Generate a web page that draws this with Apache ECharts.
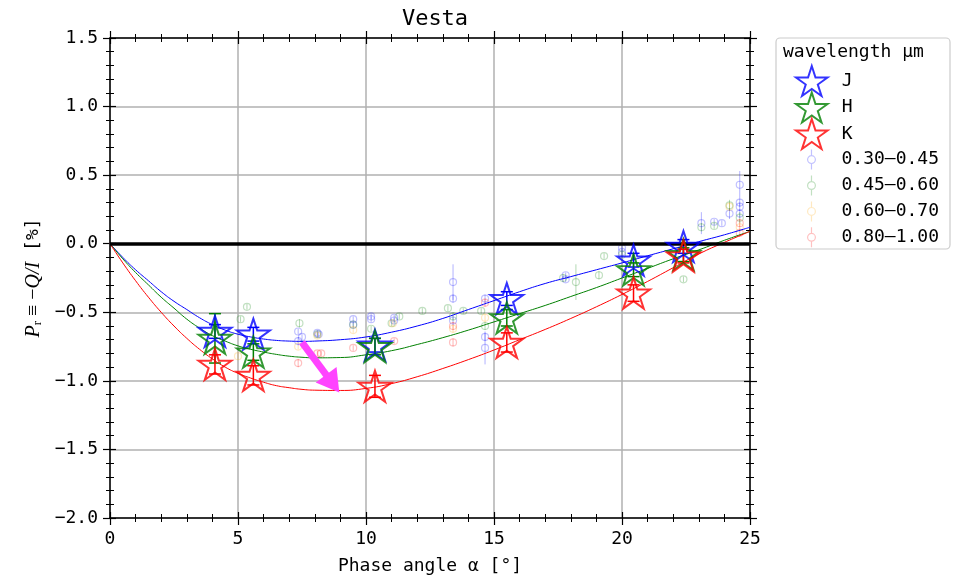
<!DOCTYPE html>
<html>
<head>
<meta charset="utf-8">
<script src="https://cdn.jsdelivr.net/npm/echarts@6/dist/echarts.min.js"></script>
<style>
html, body { margin: 0; padding: 0; background: #fff; }
#chart { width: 961px; height: 580px; }
</style>
</head>
<body>
<div id="chart"></div>
<script>
// near-IR stars (J, H, K)
var starAlpha = [4.1, 5.6, 10.35, 15.5, 20.45, 22.4];
var jP = [-0.64, -0.66, -0.74, -0.40, -0.12, -0.02];
var jErr = [0.05, 0.05, 0.05, 0.05, 0.05, 0.05];
var hP = [-0.69, -0.79, -0.75, -0.54, -0.19, -0.08];
var hErr = [0.18, 0.06, 0.06, 0.06, 0.05, 0.05];
var kP = [-0.88, -0.96, -1.04, -0.72, -0.36, -0.09];
var kErr = [0.07, 0.07, 0.08, 0.07, 0.06, 0.05];

// visible data (alpha, P, err)
var bAlpha = [7.35, 7.5, 7.35, 8.1, 8.15, 9.5, 9.5, 10.2, 10.2, 11.1, 11.1, 13.4, 13.4, 13.4, 14.65, 14.65, 14.65, 17.8, 17.8, 20.0, 20.0, 23.1, 23.6, 23.9, 24.2, 24.6, 24.6, 24.6, 24.6];
var bP = [-0.64, -0.68, -0.71, -0.65, -0.66, -0.55, -0.59, -0.53, -0.55, -0.54, -0.56, -0.28, -0.40, -0.56, -0.40, -0.68, -0.76, -0.23, -0.26, -0.03, -0.06, 0.15, 0.16, 0.15, 0.22, 0.43, 0.30, 0.27, 0.22];
var bErr = [0.02, 0.02, 0.03, 0.02, 0.02, 0.02, 0.02, 0.02, 0.02, 0.02, 0.02, 0.13, 0.03, 0.03, 0.03, 0.03, 0.12, 0.02, 0.02, 0.02, 0.02, 0.08, 0.02, 0.02, 0.04, 0.10, 0.03, 0.03, 0.03];

var gAlpha = [5.1, 5.35, 7.4, 8.1, 9.5, 10.2, 11.0, 11.3, 12.2, 13.2, 13.4, 13.8, 14.5, 14.65, 17.7, 18.2, 19.1, 19.3, 20.0, 22.4, 23.1, 23.6, 24.2, 24.6];
var gP = [-0.55, -0.46, -0.58, -0.66, -0.59, -0.62, -0.58, -0.53, -0.49, -0.47, -0.53, -0.49, -0.49, -0.60, -0.25, -0.28, -0.23, -0.09, -0.08, -0.26, 0.12, 0.13, 0.28, 0.19];
var gErr = [0.02, 0.02, 0.03, 0.02, 0.02, 0.02, 0.02, 0.02, 0.02, 0.02, 0.03, 0.02, 0.02, 0.03, 0.03, 0.13, 0.03, 0.02, 0.02, 0.02, 0.03, 0.02, 0.04, 0.04];

var oAlpha = [5.0, 7.35, 8.1, 9.5, 11.05, 13.4, 14.65, 24.2, 24.6];
var oP = [-0.82, -0.75, -0.67, -0.63, -0.58, -0.62, -0.54, 0.27, 0.12];
var oErr = [0.02, 0.02, 0.02, 0.02, 0.02, 0.03, 0.03, 0.03, 0.03];

var rAlpha = [7.35, 8.1, 8.25, 9.5, 11.1, 13.4, 13.4, 14.65, 24.6, 24.6];
var rP = [-0.87, -0.80, -0.80, -0.76, -0.71, -0.72, -0.60, -0.43, 0.15, 0.08];
var rErr = [0.03, 0.02, 0.02, 0.02, 0.02, 0.03, 0.03, 0.03, 0.03, 0.03];

// fitted curves
var fitAlpha = [0, 0.5, 1, 1.5, 2, 2.5, 3, 3.5, 4, 4.5, 5, 5.5, 6, 6.5, 7, 7.5, 8, 9, 10, 11, 12, 13, 14, 15, 16, 17, 18, 19, 20, 21, 22, 23, 24, 25];
var fitJ = [0, -0.10, -0.19, -0.27, -0.35, -0.42, -0.48, -0.54, -0.59, -0.63, -0.66, -0.68, -0.695, -0.705, -0.71, -0.712, -0.71, -0.70, -0.68, -0.645, -0.60, -0.545, -0.48, -0.415, -0.35, -0.29, -0.24, -0.19, -0.14, -0.088, -0.037, 0.015, 0.065, 0.12];
var fitH = [0, -0.11, -0.21, -0.30, -0.39, -0.47, -0.55, -0.615, -0.67, -0.71, -0.745, -0.77, -0.79, -0.807, -0.82, -0.828, -0.832, -0.83, -0.81, -0.78, -0.735, -0.685, -0.63, -0.57, -0.51, -0.45, -0.385, -0.32, -0.25, -0.18, -0.11, -0.045, 0.025, 0.09];
var fitK = [0, -0.14, -0.27, -0.39, -0.50, -0.60, -0.69, -0.77, -0.84, -0.90, -0.945, -0.98, -1.01, -1.035, -1.05, -1.062, -1.068, -1.07, -1.055, -1.02, -0.97, -0.91, -0.845, -0.775, -0.70, -0.625, -0.545, -0.46, -0.37, -0.275, -0.175, -0.075, 0.01, 0.09];

var arrowFrom = [7.5, -0.72];
var arrowTo = [8.7, -1.02];

var mono = "'DejaVu Sans Mono', monospace";
var starPath = 'path://M0,-10L2.245,-3.09L9.511,-3.09L3.633,1.18L5.878,8.09L0,3.82L-5.878,8.09L-3.633,1.18L-9.511,-3.09L-2.245,-3.09Z';
var dotPath = 'path://M0,-9L0,-3.5M0,3.5L0,9M-3.5,0A3.5,3.5 0 1 1 3.5,0A3.5,3.5 0 1 1 -3.5,0';

function zip(a, b, c) {
	var out = [];
	for (var i = 0; i < a.length; i++) {
		out.push(c ? [a[i], b[i], c[i]] : [a[i], b[i]]);
	}
	return out;
}

function errSeries(data, color, width, cap) {
	return {
		type: 'custom',
		silent: true,
		data: data,
		encode: { x: 0, y: 1 },
		z: 2,
		renderItem: function (params, api) {
			var x = api.value(0), y = api.value(1), e = api.value(2);
			var lo = api.coord([x, y - e]);
			var hi = api.coord([x, y + e]);
			var style = { stroke: color, lineWidth: width };
			var kids = [{ type: 'line', shape: { x1: lo[0], y1: lo[1], x2: hi[0], y2: hi[1] }, style: style }];
			if (cap) {
				kids.push({ type: 'line', shape: { x1: lo[0] - cap, y1: lo[1], x2: lo[0] + cap, y2: lo[1] }, style: style });
				kids.push({ type: 'line', shape: { x1: hi[0] - cap, y1: hi[1], x2: hi[0] + cap, y2: hi[1] }, style: style });
			}
			return { type: 'group', children: kids };
		}
	};
}

function dotSeries(name, data, color) {
	return {
		name: name,
		type: 'scatter',
		data: data,
		symbol: 'circle',
		symbolSize: 7,
		z: 3,
		itemStyle: { color: 'rgba(0,0,0,0)', borderColor: color, borderWidth: 1.2 },
		emphasis: { disabled: true }
	};
}

function starSeries(name, data, color) {
	return {
		name: name,
		type: 'scatter',
		data: data,
		symbol: starPath,
		symbolSize: [33, 31],
		z: 6,
		itemStyle: { color: 'rgba(0,0,0,0)', borderColor: color, borderWidth: 2 },
		emphasis: { disabled: true }
	};
}

function fitSeries(data, color) {
	return {
		type: 'line',
		data: data,
		smooth: 0.5,
		showSymbol: false,
		silent: true,
		z: 4,
		lineStyle: { color: color, width: 1 }
	};
}

function axis(pos, inside, labels, isX) {
	var a = {
		type: 'value',
		position: pos,
		min: isX ? 0 : -2,
		max: isX ? 25 : 1.5,
		interval: isX ? 5 : 0.5,
		axisLine: { show: !inside, onZero: false, lineStyle: { color: '#000', width: 1.5 } },
		axisTick: { show: true, inside: inside, length: inside ? 6 : 7, lineStyle: { color: '#000', width: 1.2 } },
		minorTick: { show: true, splitNumber: 5, length: 4, lineStyle: { color: '#000', width: 1 } },
		axisLabel: { show: false },
		splitLine: { show: false }
	};
	if (labels) {
		a.axisLabel = {
			show: true, fontFamily: mono, fontSize: 18, color: '#000', margin: 12,
			formatter: isX ? function (v) { return String(v); } :
				function (v) { return (v < 0 ? '\u2212' : '') + Math.abs(v).toFixed(1); }
		};
		a.splitLine = { show: true, lineStyle: { color: '#b0b0b0', width: 1.5 } };
	}
	return a;
}

var chart = echarts.init(document.getElementById('chart'));

var xAxes = [axis('bottom', false, true, true), axis('bottom', true, false, true), axis('top', false, false, true), axis('top', true, false, true)];
xAxes[0].name = 'Phase angle \u03b1 [\u00b0]';
xAxes[0].nameLocation = 'middle';
xAxes[0].nameGap = 39;
xAxes[0].nameTextStyle = { fontFamily: mono, fontSize: 18, color: '#000' };

var yAxes = [axis('left', false, true, false), axis('left', true, false, false), axis('right', false, false, false), axis('right', true, false, false)];
yAxes[0].name = '{i|P}{s|r}{n| \u2261 \u2212}{i|Q/I}{m| [%]}';
yAxes[0].nameLocation = 'middle';
yAxes[0].nameGap = 64;
yAxes[0].nameRotate = 90;
yAxes[0].nameTextStyle = {
	color: '#000',
	rich: {
		i: { fontFamily: 'Liberation Serif', fontStyle: 'italic', fontSize: 20, color: '#000' },
		s: { fontFamily: 'Liberation Serif', fontSize: 13, color: '#000', padding: [8, 0, 0, 0] },
		n: { fontFamily: 'Liberation Serif', fontSize: 20, color: '#000' },
		m: { fontFamily: mono, fontSize: 18, color: '#000' }
	}
};

var option = {
	animation: false,
	title: {
		text: 'Vesta',
		left: 430,
		top: 3,
		textAlign: 'center',
		textStyle: { fontFamily: mono, fontSize: 22, fontWeight: 'normal', color: '#000' }
	},
	grid: { left: 110, right: 211, top: 38, bottom: 61, containLabel: false },
	xAxis: xAxes,
	yAxis: yAxes,
	legend: [{
		data: [{ name: 'J', icon: starPath }, { name: 'H', icon: starPath }, { name: 'K', icon: starPath }],
		orient: 'vertical',
		left: 790,
		top: 60,
		itemWidth: 50,
		itemHeight: 30,
		itemGap: -5.5,
		selectedMode: false,
		itemStyle: { color: 'rgba(0,0,0,0)', borderWidth: 2 },
		textStyle: { fontFamily: mono, fontSize: 18, color: '#000' }
	}, {
		data: [{ name: '0.30\u20130.45', icon: dotPath }, { name: '0.45\u20130.60', icon: dotPath },
			{ name: '0.60\u20130.70', icon: dotPath }, { name: '0.80\u20131.00', icon: dotPath }],
		orient: 'vertical',
		left: 802,
		top: 144,
		itemWidth: 50,
		itemHeight: 20,
		itemGap: 4.7,
		selectedMode: false,
		itemStyle: { color: 'rgba(0,0,0,0)', borderWidth: 1.2 },
		textStyle: { fontFamily: mono, fontSize: 18, color: '#000' }
	}],
	graphic: [{
		type: 'rect',
		shape: { x: 776, y: 38, width: 174, height: 211, r: 4 },
		style: { fill: 'none', stroke: '#cccccc', lineWidth: 1.2 }
	}, {
		type: 'text',
		x: 783,
		y: 52,
		style: { text: 'wavelength \u03bcm', font: '18px ' + mono, fill: '#000', verticalAlign: 'middle' }
	}],
	series: [
		errSeries(zip(bAlpha, bP, bErr), 'rgba(0,0,255,0.3)', 1, 0),
		errSeries(zip(gAlpha, gP, gErr), 'rgba(0,128,0,0.3)', 1, 0),
		errSeries(zip(oAlpha, oP, oErr), 'rgba(255,165,0,0.3)', 1, 0),
		errSeries(zip(rAlpha, rP, rErr), 'rgba(255,0,0,0.3)', 1, 0),
		dotSeries('0.30\u20130.45', zip(bAlpha, bP), 'rgba(0,0,255,0.3)'),
		dotSeries('0.45\u20130.60', zip(gAlpha, gP), 'rgba(0,128,0,0.3)'),
		dotSeries('0.60\u20130.70', zip(oAlpha, oP), 'rgba(255,165,0,0.3)'),
		dotSeries('0.80\u20131.00', zip(rAlpha, rP), 'rgba(255,0,0,0.3)'),
		fitSeries(zip(fitAlpha, fitJ), '#0000ff'),
		fitSeries(zip(fitAlpha, fitH), '#008000'),
		fitSeries(zip(fitAlpha, fitK), '#ff0000'),
		{
			type: 'line',
			data: [],
			silent: true,
			markLine: {
				silent: true,
				symbol: 'none',
				label: { show: false },
				lineStyle: { color: '#000', width: 3.5, type: 'solid' },
				data: [{ yAxis: 0 }]
			}
		},
		errSeries(zip(starAlpha, jP, jErr), '#0000ff', 1.5, 6),
		errSeries(zip(starAlpha, hP, hErr), '#008000', 1.5, 6),
		errSeries(zip(starAlpha, kP, kErr), '#ff0000', 1.5, 6),
		starSeries('J', zip(starAlpha, jP), '#0000ff'),
		starSeries('H', zip(starAlpha, hP), '#008000'),
		starSeries('K', zip(starAlpha, kP), '#ff0000'),
		{
			type: 'line',
			data: [],
			silent: true,
			z: 8,
			markLine: {
				silent: true,
				symbol: ['none', 'triangle'],
				symbolSize: [26, 22],
				label: { show: false },
				lineStyle: { color: '#ff44ff', width: 7, type: 'solid', opacity: 1 },
				data: [[{ coord: arrowFrom }, { coord: arrowTo }]]
			}
		}
	]
};

chart.setOption(option);
</script>
</body>
</html>
